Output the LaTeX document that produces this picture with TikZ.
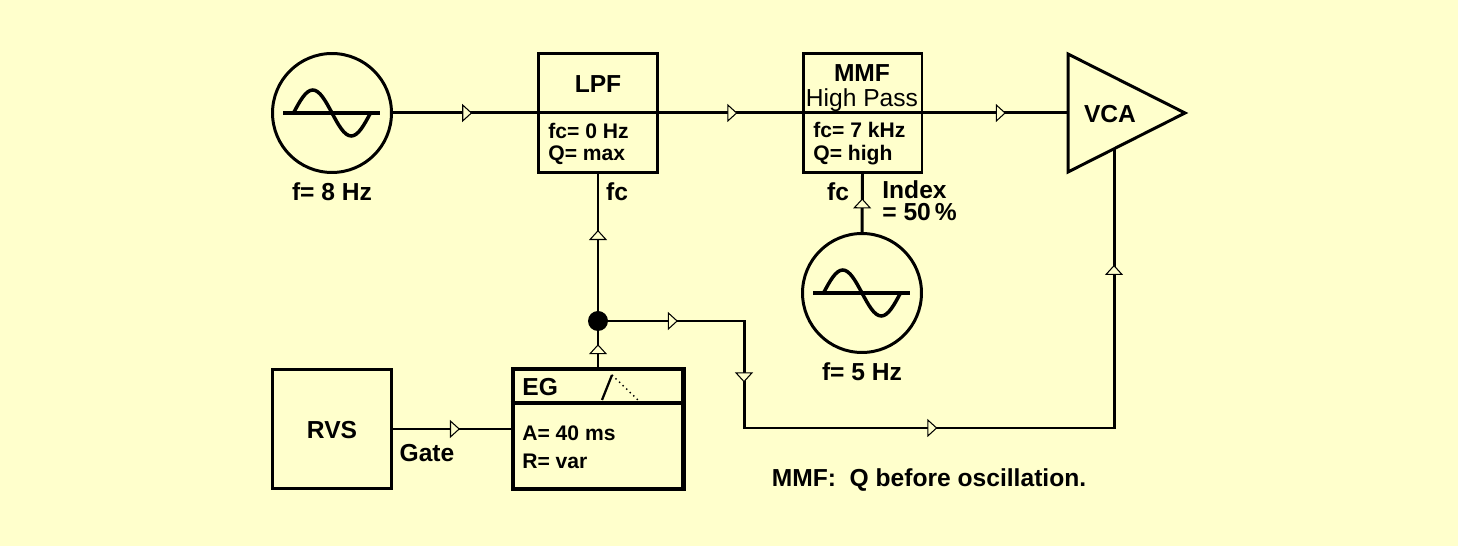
\documentclass[tikz,border=0pt]{standalone}
\usepackage{fontspec}
\setmainfont{Liberation Sans}
\usetikzlibrary{arrows.meta,decorations.markings}
\definecolor{bg}{HTML}{FFFFCC}
\tikzset{
  wire/.style={line width=1.7pt},
  flowat/.style={postaction={decorate,decoration={markings,
      mark=at position #1 with {\arrow{Triangle[length=0.2cm,width=0.36cm,line width=0.6pt,fill=bg]}}}}},
  osc/.style={draw,circle,line width=1.7pt,minimum size=2.38cm,inner sep=0pt},
  block/.style={draw,line width=1.7pt,minimum width=2.38cm,minimum height=2.38cm,inner sep=0pt},
  big/.style={font=\bfseries\fontsize{14}{16}\selectfont,inner sep=0pt},
  param/.style={font=\bfseries\fontsize{12}{14}\selectfont,inner sep=0pt,anchor=west},
  wave/.style={line width=2pt}
}
\newcommand{\sinewave}[1]{%
  \draw[wave] ([xshift=-0.98cm]#1.center) -- ([xshift=0.96cm]#1.center);
  \draw[wave] ([xshift=-0.77cm]#1.center) sin ++(0.385cm,0.46cm) cos ++(0.385cm,-0.46cm)
    sin ++(0.385cm,-0.46cm) cos ++(0.385cm,0.46cm);
}
\begin{document}
\begin{tikzpicture}[x=0.02cm,y=-0.02cm]
  \fill[bg] (0,0) rectangle (1458,546);
  \useasboundingbox (0,0) rectangle (1458,546);

  \node[osc] (osc1) at (332,113) {};
  \node[block] (lpf) at (598,113) {};
  \node[block] (mmf) at (862.5,113) {};
  \node[osc] (osc2) at (862,293) {};
  \node[block] (rvs) at (332,429) {};
  \node[draw,line width=2.3pt,minimum width=3.42cm,minimum height=2.4cm,inner sep=0pt] (eg) at (598,429) {};
  \node[circle,fill,minimum size=0.4cm,inner sep=0pt] (dot) at (598,321) {};
  \coordinate (vcatop) at (1068,54);
  \coordinate (vcatip) at (1185,113);
  \coordinate (vcabot) at (1068,172);
  \coordinate (vcain) at (1068,113);
  \coordinate (vcacv) at (1114,149);
  \coordinate (bend1) at (744,321);
  \coordinate (bend2) at (744,428);

  \sinewave{osc1}
  \sinewave{osc2}
  \draw[wire,line join=miter] (vcatop) -- (vcatip) -- (vcabot) -- cycle;
  \draw[wire] (lpf.west) -- (lpf.east);
  \draw[wire] (mmf.west) -- (mmf.east);
  \draw[line width=2.3pt] ([yshift=-0.72cm]eg.north west) -- ([yshift=-0.72cm]eg.north east);
  \draw[line width=1.3pt] (602,400) -- (612,375);
  \draw[dotted,line width=0.8pt] (612,375) -- (638,400);

  \node[big] (f1) at (332,192) {f= 8 Hz};
  \node[big] (lpft) at (598,84) {LPF};
  \node[param] (lpfa) at (548,131) {fc= 0 Hz};
  \node[param] (lpfb) at (548,155) {Q= max};
  \node[big] (lpffc) at (617,192) {fc};
  \node[big] (mmft) at (862,73) {MMF};
  \node[font=\fontsize{14}{16}\selectfont,inner sep=0pt] (mmfs) at (862,100) {High Pass};
  \node[param] (mmfa) at (813,130) {fc= 7 kHz};
  \node[param] (mmfb) at (813,155) {Q= high};
  \node[big] (mmffc) at (838,192) {fc};
  \node[big,anchor=west] (idx) at (882,190) {Index};
  \node[big,anchor=west] (idxv) at (882,212) {= 50\,\%};
  \node[big] (f2) at (862,372) {f= 5 Hz};
  \node[big] (vca) at (1110,114) {VCA};
  \node[big] (rvst) at (332,430) {RVS};
  \node[big] (gate) at (427,453) {Gate};
  \node[big,anchor=west] (egt) at (522,387) {EG};
  \node[param] (ega) at (522,433) {A= 40 ms};
  \node[param] (egr) at (522,461) {R= var};
  \node[big] (note) at (929,480) {MMF:\ \ Q before oscillation.};

  \draw[wire,flowat=0.55] (osc1.east) -- (lpf.west);
  \draw[wire,flowat=0.55] (lpf.east) -- (mmf.west);
  \draw[wire,flowat=0.57] (mmf.east) -- (vcain);
  \draw[wire,flowat=0.58] (osc2.north) -- (mmf.south);
  \draw[wire,flowat=0.64] (eg.north) -- (dot);
  \draw[wire,flowat=0.59] (dot) -- (lpf.south);
  \draw[wire,flowat=0.078,flowat=0.221,flowat=0.489,flowat=0.87] (dot) -- (bend1) -- (bend2) -| (vcacv);
  \draw[wire,flowat=0.57] (rvs.east) -- (rvs.east -| eg.west);
\end{tikzpicture}
\end{document}
